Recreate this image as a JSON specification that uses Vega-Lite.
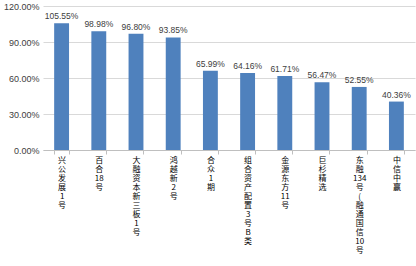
{
  "$schema": "https://vega.github.io/schema/vega-lite/v6.json",
  "width": 372,
  "height": 144,
  "autosize": {"type": "none"},
  "padding": {"left": 43, "top": 6, "right": 1, "bottom": 116},
  "background": "white",
  "data": {"values": [
    {"name": "兴公发展1号", "value": 1.0555},
    {"name": "百合18号", "value": 0.9898},
    {"name": "大融资本新三板1号", "value": 0.968},
    {"name": "鸿越新2号", "value": 0.9385},
    {"name": "合众1期", "value": 0.6599},
    {"name": "组合资产配置3号B类", "value": 0.6416},
    {"name": "金源东方11号", "value": 0.6171},
    {"name": "巨杉精选", "value": 0.5647},
    {"name": "东融134号(融通国信10号)", "value": 0.5255},
    {"name": "中信中赢", "value": 0.4036}
  ]},
  "config": {
    "view": {"stroke": null},
    "font": "Noto Sans CJK SC",
    "axis": {"labelColor": "#404040", "labelFont": "Noto Sans CJK SC"}
  },
  "encoding": {
    "x": {
      "field": "name", "type": "nominal", "sort": null,
      "scale": {"paddingInner": 0.6, "paddingOuter": 0.3},
      "axis": {
        "title": null, "labelAngle": 0,
        "labelExpr": "split(slice(replace(replace(datum.label, regexp('([^ -~])', 'g'), '#$1#'), regexp('#+', 'g'), '#'), 1, -1), '#')",
        "labelLineHeight": 9, "labelFontSize": 8, "labelBaseline": "top",
        "labelPadding": 2, "tickBand": "extent", "tickSize": 4, "tickColor": "#bfbfbf",
        "domainColor": "#bfbfbf", "labelColor": "#000000", "labelOverlap": false
      }
    },
    "y": {
      "field": "value", "type": "quantitative",
      "scale": {"domain": [0, 1.2]},
      "axis": {
        "title": null, "format": ".2%", "values": [0, 0.3, 0.6, 0.9, 1.2],
        "domain": false, "ticks": false, "gridColor": "#d9d9d9", "labelFontSize": 9,
        "labelFont": "Liberation Sans", "labelPadding": 4
      }
    }
  },
  "layer": [
    {"mark": {"type": "bar", "color": "#4F81BD"}},
    {
      "mark": {"type": "text", "dy": -7, "fontSize": 8.5, "color": "#404040", "font": "Liberation Sans"},
      "encoding": {"text": {"field": "value", "type": "quantitative", "format": ".2%"}}
    }
  ]
}
